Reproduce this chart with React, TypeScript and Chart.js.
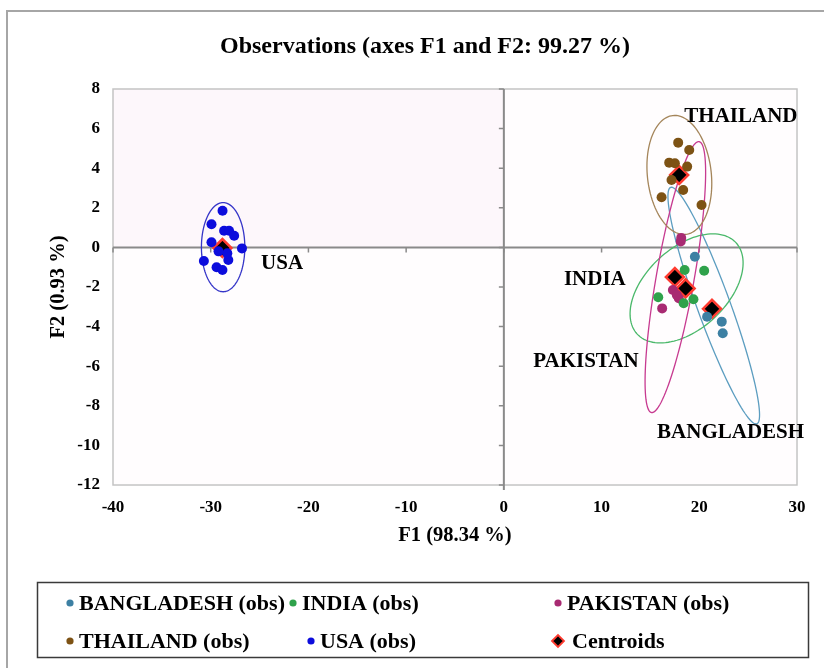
import React, { useEffect, useRef } from "react";
import { Chart, registerables } from "chart.js";
Chart.register(...registerables);

// ---- Data (F1, F2 coordinates) ----
const bangladeshX = [19.55, 20.8, 22.3, 22.4];
const bangladeshY = [-0.47, -3.5, -3.75, -4.34];

const indiaX = [18.5, 20.5, 15.8, 19.4, 18.4];
const indiaY = [-1.14, -1.18, -2.52, -2.62, -2.82];

const pakistanX = [18.1, 18.15, 17.3, 17.9, 16.2, 17.7];
const pakistanY = [0.3, 0.48, -2.15, -2.57, -3.08, -2.4];

const thailandX = [17.84, 18.97, 16.92, 17.5, 18.76, 17.16, 18.35, 16.14, 20.23];
const thailandY = [5.29, 4.92, 4.28, 4.25, 4.08, 3.4, 2.9, 2.53, 2.14];

const usaX = [-28.79, -29.92, -28.63, -28.12, -27.6, -29.92, -26.8, -30.7, -28.2, -29.4, -28.8, -28.3, -29.2];
const usaY = [1.85, 1.17, 0.84, 0.84, 0.59, 0.26, -0.05, -0.69, -0.64, -1.0, -1.14, -0.3, -0.2];

const centroidNames = ["BANGLADESH", "INDIA", "PAKISTAN", "THAILAND", "USA"];
const centroidX = [21.3, 18.6, 17.5, 17.94, -28.8];
const centroidY = [-3.1, -2.07, -1.5, 3.66, -0.03];

// confidence ellipses: centre and two conjugate semi-axis vectors (data units)
const ellipseCx = [21.48, 18.7, 17.55, 17.96, -28.73];
const ellipseCy = [-2.94, -2.07, -1.5, 3.66, 0.01];
const ellipseAx = [-4.41, 5.05, 2.44, -0.67, 0];
const ellipseAy = [5.97, 2.31, 6.84, 3.0, 2.25];
const ellipseBx = [1.59, 2.82, 1.91, 3.25, 2.22];
const ellipseBy = [0.286, -1.5, -0.17, 0.18, 0];

// group name labels (anchor in data units)
const labelText = ["BANGLADESH", "INDIA", "PAKISTAN", "THAILAND", "USA"];
const labelX = [23.2, 9.31, 8.4, 24.26, -22.7];
const labelY = [-9.33, -1.6, -5.78, 6.6, -0.84];

const xTicks = { min: -40, max: 30, step: 10 };
const yTicks = { min: -12, max: 8, step: 2 };

const title = "Observations (axes F1 and F2: 99.27 %)";
const xTitle = "F1 (98.34 %)";
const yTitle = "F2 (0.93 %)";

const pointColors = ["#3d80a3", "#2fa24b", "#a82a72", "#7d5214", "#0c0cdc"];
const ellipseColors = ["#5c9dc0", "#4ab86a", "#c73a90", "#a4855a", "#3535c8"];

const FONT = '"Liberation Serif", "Times New Roman", serif';

export default function App() {
  const ref = useRef<HTMLCanvasElement>(null);

  useEffect(() => {
    const toPts = (xs: number[], ys: number[]) => xs.map((x, i) => ({ x, y: ys[i] }));
    const series = [
      { label: "BANGLADESH (obs)", xs: bangladeshX, ys: bangladeshY },
      { label: "INDIA (obs)", xs: indiaX, ys: indiaY },
      { label: "PAKISTAN (obs)", xs: pakistanX, ys: pakistanY },
      { label: "THAILAND (obs)", xs: thailandX, ys: thailandY },
      { label: "USA (obs)", xs: usaX, ys: usaY },
    ];
    const datasets: any[] = series.map((s, i) => ({
      label: s.label,
      data: toPts(s.xs, s.ys),
      backgroundColor: pointColors[i],
      borderColor: pointColors[i],
      pointRadius: 5,
      pointBorderWidth: 0,
    }));
    datasets.push({
      label: "Centroids",
      data: toPts(centroidX, centroidY),
      pointStyle: "rectRot",
      pointRadius: 9,
      backgroundColor: "#000000",
      borderColor: "#ff3b30",
      pointBorderWidth: 2.5,
    });

    const bgPlugin = {
      id: "bg",
      beforeDraw(chart: any) {
        const { ctx, chartArea: a, scales } = chart;
        ctx.save();
        ctx.fillStyle = "#ffffff";
        ctx.fillRect(0, 0, chart.width, chart.height);
        // outer frame
        ctx.strokeStyle = "#a6a6a6";
        ctx.lineWidth = 2;
        ctx.beginPath();
        ctx.moveTo(7, chart.height + 2);
        ctx.lineTo(7, 11);
        ctx.lineTo(chart.width + 2, 11);
        ctx.stroke();
        // plot bg
        ctx.fillStyle = "#fffdfe";
        ctx.fillRect(a.left, a.top, a.right - a.left, a.bottom - a.top);
        const x0 = scales.x.getPixelForValue(0);
        const y0 = scales.y.getPixelForValue(0);
        ctx.fillStyle = "#fdf7fb";
        ctx.fillRect(a.left, a.top, x0 - a.left, y0 - a.top);
        ctx.restore();
      },
      beforeDatasetsDraw(chart: any) {
        const { ctx, chartArea: a, scales } = chart;
        const sx = scales.x, sy = scales.y;
        ctx.save();
        // plot border
        ctx.strokeStyle = "#c4c4c4";
        ctx.lineWidth = 1.5;
        ctx.strokeRect(a.left, a.top, a.right - a.left, a.bottom - a.top);
        // zero axes
        const x0 = sx.getPixelForValue(0);
        const y0 = sy.getPixelForValue(0);
        ctx.strokeStyle = "#8a8a8a";
        ctx.lineWidth = 2;
        ctx.beginPath();
        ctx.moveTo(x0, a.top);
        ctx.lineTo(x0, a.bottom + 5);
        ctx.moveTo(a.left, y0);
        ctx.lineTo(a.right, y0);
        ctx.stroke();
        ctx.lineWidth = 1.5;
        ctx.beginPath();
        sy.ticks.forEach((t: any) => {
          const py = sy.getPixelForValue(t.value);
          ctx.moveTo(x0 - 5, py);
          ctx.lineTo(x0, py);
        });
        sx.ticks.forEach((t: any) => {
          const px = sx.getPixelForValue(t.value);
          ctx.moveTo(px, y0);
          ctx.lineTo(px, y0 + 5);
        });
        ctx.stroke();
        // ellipses
        ctx.lineWidth = 1.3;
        ellipseCx.forEach((cx, i) => {
          ctx.strokeStyle = ellipseColors[i];
          ctx.beginPath();
          const n = 120;
          for (let k = 0; k <= n; k++) {
            const t = (k / n) * Math.PI * 2;
            const vx = cx + Math.cos(t) * ellipseAx[i] + Math.sin(t) * ellipseBx[i];
            const vy = ellipseCy[i] + Math.cos(t) * ellipseAy[i] + Math.sin(t) * ellipseBy[i];
            const px = sx.getPixelForValue(vx);
            const py = sy.getPixelForValue(vy);
            if (k === 0) ctx.moveTo(px, py);
            else ctx.lineTo(px, py);
          }
          ctx.closePath();
          ctx.stroke();
        });
        ctx.restore();
      },
      afterDatasetsDraw(chart: any) {
        const { ctx, scales } = chart;
        const sx = scales.x, sy = scales.y;
        ctx.save();
        ctx.fillStyle = "#000";
        ctx.textAlign = "center";
        ctx.textBaseline = "middle";
        // group labels
        ctx.font = `bold 21px ${FONT}`;
        labelText.forEach((t, i) => {
          ctx.fillText(t, sx.getPixelForValue(labelX[i]), sy.getPixelForValue(labelY[i]));
        });
        // title
        ctx.font = `bold 24px ${FONT}`;
        ctx.fillText(title, 425, 47);
        // legend box
        ctx.strokeStyle = "#3a3a3a";
        ctx.lineWidth = 1.5;
        ctx.strokeRect(37.5, 582.5, 771, 75);
        const items = chart.data.datasets.map((d: any, i: number) => ({ label: d.label, idx: i }));
        const pos = [
          [70, 603], [293, 603], [558, 603],
          [70, 641], [311, 641], [558, 641],
        ];
        ctx.font = `bold 22px ${FONT}`;
        ctx.textAlign = "left";
        items.forEach((it: any, j: number) => {
          const [mx, my] = pos[j];
          const ds = chart.data.datasets[it.idx];
          if (ds.pointStyle === "rectRot") {
            ctx.beginPath();
            ctx.moveTo(mx - 6, my);
            ctx.lineTo(mx, my - 6);
            ctx.lineTo(mx + 6, my);
            ctx.lineTo(mx, my + 6);
            ctx.closePath();
            ctx.fillStyle = "#000";
            ctx.fill();
            ctx.strokeStyle = ds.borderColor;
            ctx.lineWidth = 1.8;
            ctx.stroke();
            ctx.fillStyle = "#000";
            ctx.fillText(it.label, mx + 14, my + 1);
          } else {
            ctx.beginPath();
            ctx.arc(mx, my, 3.6, 0, Math.PI * 2);
            ctx.fillStyle = ds.backgroundColor;
            ctx.fill();
            ctx.fillStyle = "#000";
            ctx.fillText(it.label, mx + 9, my + 1);
          }
        });
        ctx.restore();
      },
    };

    const tickFont = { family: FONT, size: 17, weight: "bold" as const };
    const titleFont = { family: FONT, size: 20.5, weight: "bold" as const };

    const chart = new Chart(ref.current!, {
      type: "scatter",
      data: { datasets },
      plugins: [bgPlugin],
      options: {
        animation: false,
        responsive: false,
        maintainAspectRatio: false,
        layout: { padding: { left: 0, top: 89, right: 27, bottom: 113 } },
        plugins: {
          legend: { display: false },
          title: { display: false },
          tooltip: { enabled: false },
        },
        scales: {
          x: {
            type: "linear",
            min: xTicks.min,
            max: xTicks.max,
            ticks: { stepSize: xTicks.step, font: tickFont, color: "#000", padding: 12, maxRotation: 0 },
            grid: { display: false, drawTicks: false },
            border: { display: false },
            title: { display: true, text: xTitle, font: titleFont, color: "#000", padding: { top: 0, bottom: 7 } },
            afterFit: (s: any) => { s.height = 70; },
          },
          y: {
            type: "linear",
            min: yTicks.min,
            max: yTicks.max,
            ticks: { stepSize: yTicks.step, font: tickFont, color: "#000", padding: 13 },
            grid: { display: false, drawTicks: false },
            border: { display: false },
            title: { display: true, text: yTitle, font: titleFont, color: "#000", padding: { top: 46, bottom: 0 } },
            afterFit: (s: any) => { s.width = 113; },
          },
        },
      } as any,
    });
    return () => chart.destroy();
  }, []);

  return (
    <div style={{ position: "absolute", left: 0, top: 0, width: 824, height: 668, background: "#fff" }}>
      <canvas ref={ref} width={824} height={668} style={{ display: "block", width: 824, height: 668 }} />
    </div>
  );
}
